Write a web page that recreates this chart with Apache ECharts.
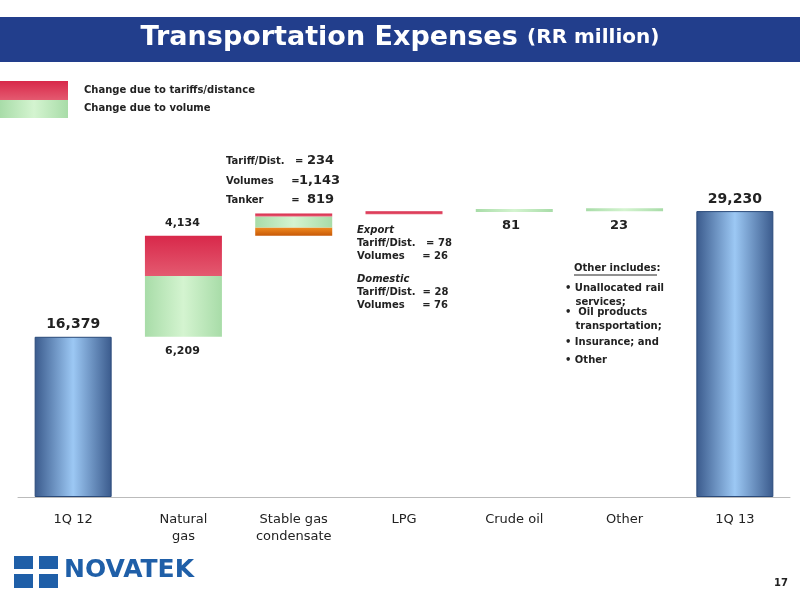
<!DOCTYPE html>
<html>
<head>
<meta charset="UTF-8">
<script src="https://cdn.jsdelivr.net/npm/echarts@6/dist/echarts.min.js"></script>
<style>body{margin:0;background:#fff}#c{width:800px;height:600px}</style>
</head>
<body>
<div id="c"></div>
<script>
var categories = ['1Q 12', 'Natural\ngas', 'Stable gas\ncondensate', 'LPG', 'Crude oil', 'Other', '1Q 13'];
var baseVals   = [0, 16379, 26722, 28918, 29126, 29207, 0];
var tankerVals = ['-', '-', 819, '-', '-', '-', '-'];
var volumeVals = ['-', 6209, 1143, '-', 81, 23, '-'];
var tariffVals = ['-', 4134, 234, 208, '-', '-', '-'];
var totalVals  = [16379, '-', '-', '-', '-', '-', 29230];

var font = 'DejaVu Sans';
var blue = {type: 'linear', x: 0, y: 0, x2: 1, y2: 0, colorStops: [
    {offset: 0, color: '#3a5a8c'}, {offset: 0.5, color: '#9cc8f4'}, {offset: 1, color: '#3a5a8c'}]};
var red = {type: 'linear', x: 0, y: 0, x2: 0, y2: 1, colorStops: [
    {offset: 0, color: '#d8284a'}, {offset: 1, color: '#e45a70'}]};
var green = {type: 'linear', x: 0, y: 0, x2: 1, y2: 0, colorStops: [
    {offset: 0, color: '#a8dca8'}, {offset: 0.5, color: '#d4f4d0'}, {offset: 1, color: '#a8dca8'}]};
var orange = {type: 'linear', x: 0, y: 0, x2: 0, y2: 1, colorStops: [
    {offset: 0, color: '#f08a20'}, {offset: 1, color: '#c85a08'}]};

function txt(x, y, s, opt) {
    return {type: 'text', left: x, top: y, style: Object.assign({text: s, fill: '#222', font: 'bold 10px ' + font}, opt || {})};
}

var chart = echarts.init(document.getElementById('c'));
chart.setOption({
    animation: false,
    grid: {left: 18, right: 10, top: 184, bottom: 103},
    xAxis: {
        type: 'category', data: categories,
        axisLine: {lineStyle: {color: '#bbb'}}, axisTick: {show: false},
        axisLabel: {color: '#222', fontFamily: font, fontSize: 13, margin: 14, lineHeight: 17}
    },
    yAxis: {type: 'value', min: 0, max: 32000, show: false, splitLine: {show: false}},
    series: [
        {type: 'bar', stack: 'w', data: baseVals, barWidth: 77, itemStyle: {color: 'transparent'}},
        {type: 'bar', stack: 'w', data: tankerVals, itemStyle: {color: orange}},
        {type: 'bar', stack: 'w', data: volumeVals, barMinHeight: 3, itemStyle: {color: green}},
        {type: 'bar', stack: 'w', data: tariffVals, barMinHeight: 3, itemStyle: {color: red}},
        {type: 'bar', stack: 'w', data: totalVals, itemStyle: {color: blue, borderColor: '#2a4a7a', borderWidth: 1},
            label: {show: true, position: 'top', color: '#222', fontFamily: font, fontWeight: 'bold', fontSize: 14,
                formatter: function (p) { return p.value.toLocaleString('en-US'); }}}
    ],
    graphic: [
        {type: 'rect', shape: {x: 0, y: 17, width: 800, height: 45}, style: {fill: '#223e8c'}},
        {type: 'text', left: 'center', top: 24, style: {rich: {
            a: {fill: '#fff', font: 'bold 27px ' + font},
            b: {fill: '#fff', font: 'bold 20px ' + font}}, text: '{a|Transportation Expenses }{b|(RR million)}'}},
        {type: 'rect', shape: {x: 0, y: 81, width: 68, height: 19}, style: {fill: red}},
        {type: 'rect', shape: {x: 0, y: 100, width: 68, height: 18}, style: {fill: green}},
        txt(84, 85, 'Change due to tariffs/distance'),
        txt(84, 103, 'Change due to volume'),
        txt(165, 218, '4,134', {font: 'bold 11px ' + font}),
        txt(165, 346, '6,209', {font: 'bold 11px ' + font}),
        txt(226, 156, 'Tariff/Dist.   ='),
        txt(226, 176, 'Volumes     ='),
        txt(226, 195, 'Tanker        ='),
        txt(307, 154, '234', {font: 'bold 13px ' + font}),
        txt(299, 174, '1,143', {font: 'bold 13px ' + font}),
        txt(307, 193, '819', {font: 'bold 13px ' + font}),
        txt(357, 225, 'Export', {font: 'bold italic 10px ' + font}),
        txt(357, 238, 'Tariff/Dist.   = 78'),
        txt(357, 251, 'Volumes     = 26'),
        txt(357, 274, 'Domestic', {font: 'bold italic 10px ' + font}),
        txt(357, 287, 'Tariff/Dist.  = 28'),
        txt(357, 300, 'Volumes     = 76'),
        txt(502, 219, '81', {font: 'bold 13px ' + font}),
        txt(610, 219, '23', {font: 'bold 13px ' + font}),
        txt(574, 263, 'Other includes:'),
        {type: 'line', shape: {x1: 574, y1: 275, x2: 657, y2: 275}, style: {stroke: '#222', lineWidth: 1}},
        txt(565, 281, '• Unallocated rail\n   services;', {lineHeight: 14}),
        txt(565, 305, '•  Oil products\n   transportation;', {lineHeight: 14}),
        txt(565, 337, '• Insurance; and'),
        txt(565, 355, '• Other'),
        {type: 'rect', shape: {x: 14, y: 556, width: 44, height: 32}, style: {fill: '#1f5fa8'}},
        {type: 'rect', shape: {x: 14, y: 569, width: 44, height: 5}, style: {fill: '#fff'}},
        {type: 'rect', shape: {x: 33, y: 556, width: 6, height: 32}, style: {fill: '#fff'}},
        txt(64, 558, 'NOVATEK', {fill: '#1f5fa8', font: 'bold 25px ' + font}),
        txt(774, 578, '17')
    ]
});
</script>
</body>
</html>
